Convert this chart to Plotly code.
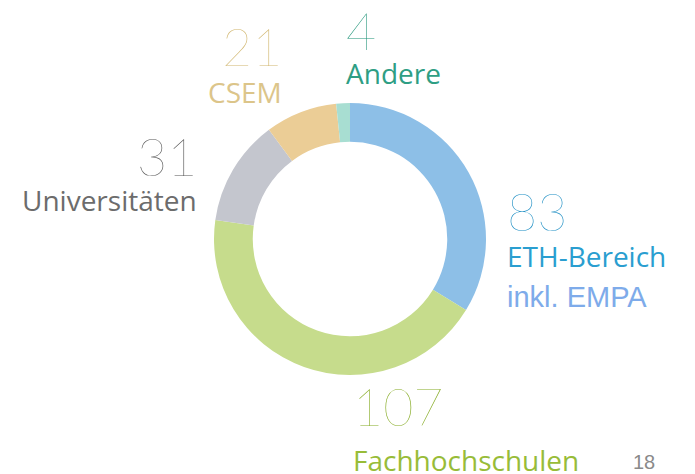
import plotly.graph_objects as go

categories = ["ETH-Bereich", "Fachhochschulen", "Universitäten", "CSEM", "Andere"]
values = [83, 107, 31, 21, 4]
slice_colors = ["#8dbfe7", "#c6dc8c", "#c4c6ce", "#ebcd96", "#a8ded2"]
number_labels = ["83", "107", "31", "21", "4"]
name_labels = ["ETH-Bereich", "Fachhochschulen", "Universitäten", "CSEM", "Andere"]
text_colors = ["#2a9ed0", "#98bc38", "#6c6c6c", "#dcc58a", "#2e9e84"]
number_colors = ["#1f8fc4", "#8aae2c", "#555555", "#d2b872", "#1f9478"]
page_number = "18"

W, H = 695, 474
cx, cy, r = 350, 239, 136

fig = go.Figure(go.Pie(
    labels=categories, values=values, sort=False, direction="clockwise",
    rotation=0, hole=0.715, textinfo="none", hoverinfo="label+value",
    marker=dict(colors=slice_colors, line=dict(width=0)),
    domain=dict(x=[(cx - r) / W, (cx + r) / W], y=[(H - cy - r) / H, (H - cy + r) / H]),
    showlegend=False,
))

# annotation positions (pixel coords from top-left), anchor
pos = {
    "ETH-Bereich": (505, 211, 256, "left"),
    "Fachhochschulen": (351, 406, 460, "left"),
    "Universitäten": (199, 156, 200, "right"),
    "CSEM": (284, 46, 92, "right"),
    "Andere": (344, 30, 73, "left"),
}
num_font = "Lato"
lab_font = "Open Sans"
ann = []
for i, name in enumerate(categories):
    x, yn, yl, anc = pos[name]
    ann.append(dict(x=x / W, y=1 - yn / H, xref="paper", yref="paper", xanchor=anc, yanchor="middle",
                    text=number_labels[i], showarrow=False,
                    font=dict(family=num_font, size=52, color=number_colors[i], weight=200)))
    ann.append(dict(x=x / W, y=1 - yl / H, xref="paper", yref="paper", xanchor=anc, yanchor="middle",
                    text=name_labels[i], showarrow=False,
                    font=dict(family=lab_font, size=28, color=text_colors[i])))
ann.append(dict(x=505 / W, y=1 - 297 / H, xref="paper", yref="paper", xanchor="left", yanchor="middle",
                text="inkl. EMPA", showarrow=False,
                font=dict(family="Liberation Sans", size=29, color="#7eabea")))
ann.append(dict(x=631 / W, y=1 - 462 / H, xref="paper", yref="paper", xanchor="left", yanchor="middle",
                text=page_number, showarrow=False,
                font=dict(family="Liberation Sans", size=20, color="#8a8a8a")))

fig.update_layout(width=W, height=H, margin=dict(l=0, r=0, t=0, b=0),
                  paper_bgcolor="white", plot_bgcolor="white", annotations=ann)
fig.write_html("out.html", config={"displayModeBar": False},
               post_script="document.body.style.margin='0';")
